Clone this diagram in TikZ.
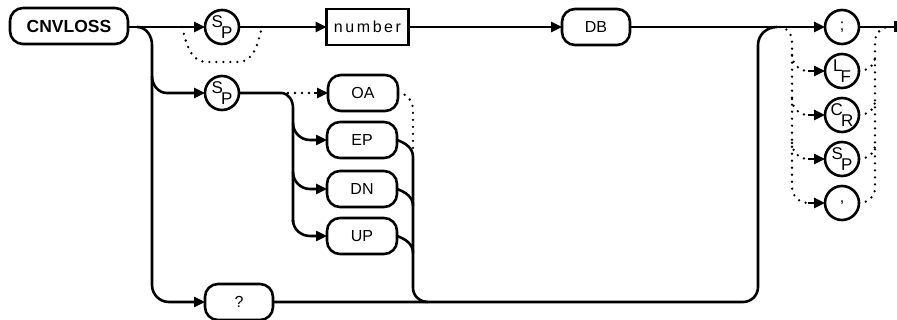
\documentclass[tikz,border=0pt]{standalone}
\usepackage{fontspec}
\setmainfont{Liberation Sans}
\usetikzlibrary{arrows.meta}
\newcommand\cirlab[2]{\raisebox{6pt}{#1}\kern-2pt\raisebox{-5pt}{#2}}
\begin{document}
\begin{tikzpicture}[x=1pt,y=-1pt,
  line width=2.6pt,
  every node/.style={inner sep=0pt, outer sep=0pt},
  term/.style={draw, rounded corners=13pt, minimum width=70pt, minimum height=36pt, font=\fontsize{16}{16}\selectfont},
  boxnode/.style={draw, minimum width=82pt, minimum height=36pt, font=\fontsize{16}{16}\selectfont\addfontfeature{LetterSpace=16}},
  circ/.style={draw, circle, minimum size=34pt, font=\fontsize{16}{16}\selectfont},
  sub/.style={font=\fontsize{17}{17}\selectfont},
  arr/.style={-{Triangle[length=11pt,width=10pt]}},
  dot/.style={line width=2.6pt, dash pattern=on 0pt off 7pt, line cap=round},
]
\useasboundingbox (0,0) rectangle (897,320);

% nodes
\node[term, minimum width=118pt, font=\bfseries\fontsize{17.5}{17.5}\selectfont] (cnv) at (69,26) {CNVLOSS};
\node[circ, sub] (sp1) at (222,27) {\cirlab{S}{P}};
\node[boxnode] (num) at (367.5,27) {number};
\node[term, minimum width=68pt] (db) at (596,27) {DB};
\node[circ, sub] (sp2) at (222,93) {\cirlab{S}{P}};
\node[term] (oa) at (363,93) {OA};
\node[term] (ep) at (362,140) {EP};
\node[term] (dn) at (362,189) {DN};
\node[term] (up) at (362,236) {UP};
\node[term, minimum width=68pt] (q) at (239,302) {?};
\node[circ] (semi) at (842,27) {;};
\node[circ, sub] (lf) at (842,71) {\cirlab{L}{F}};
\node[circ, sub] (cr) at (842,115) {\cirlab{C}{R}};
\node[circ, sub] (sp3) at (842,159) {\cirlab{S}{P}};
\node[circ] (comma) at (842,203) {,};
\coordinate (end) at (895.5,27);

% main line
\draw[arr] (cnv.east |- sp1) -- (sp1.west);
\draw[arr] (sp1.east) -- (num.west);
\draw[arr] (num.east) -- (db.west);
\draw[arr] (db.east) -- (semi.west);
\draw (semi.east) -- (end);
\draw ([yshift=-5.5pt]end) -- ([yshift=5.5pt]end);

% optional space bypass
\coordinate (b1) at (182,27);
\coordinate (b2) at (262,27);
\draw[dot] (b1) to[out=-75,in=180] (207,62) -- (238,62) to[out=0,in=-105] (b2);

% left vertical branch
\coordinate (j0) at (137,27);
\draw[arr] (j0) to[out=0,in=90] (152,45) -- (152,285) to[out=-90,in=180] (169,302) -- (q.west);
\draw[arr] (152,76) to[out=-90,in=180] (167,93) -- (sp2.west);

% SP2 to OA/EP/DN/UP
\draw (sp2.east) -- (281,93) to[out=0,in=90] (293,108) -- (293,222);
\draw[dot] (288,93) -- (314,93);
\draw[arr] (314,93) -- (oa.west);
\draw[arr] (293,123) to[out=-90,in=180] (310,140) -- (ep.west);
\draw[arr] (293,172) to[out=-90,in=180] (310,189) -- (dn.west);
\draw[arr] (293,220) to[out=-90,in=180] (310,236) -- (up.west);

% merge right of OA..UP
\draw[dot] (oa.east) to[out=0,in=90] (413,110) -- (413,152);
\draw (ep.east) to[out=-20,in=90] (413,157) -- (413,288) to[out=-90,in=180] (428,302);
\draw (dn.east) to[out=-20,in=90] (413,206);
\draw (up.east) to[out=-20,in=90] (413,253);

% bottom return line
\draw (q.east) -- (743,302) to[out=0,in=-90] (758,287) -- (758,45) to[out=90,in=180] (777,27);

% terminators: left dotted
\coordinate (t1) at (780,27);
\draw[dot] (t1) to[out=0,in=90] (792,42) -- (792,187) to[out=-90,in=180] (808,203);
\draw[dot] (792,55) to[out=-90,in=180] (808,71);
\draw[dot] (792,99) to[out=-90,in=180] (808,115);
\draw[dot] (792,143) to[out=-90,in=180] (808,159);
\draw[arr] (808,71) -- (lf.west);
\draw[arr] (808,115) -- (cr.west);
\draw[arr] (808,159) -- (sp3.west);
\draw[arr] (808,203) -- (comma.west);

% terminators: right dotted
\coordinate (t2) at (889,27);
\draw[dot] (comma.east) to[out=0,in=-90] (875,188) -- (875,42) to[out=90,in=180] (t2);
\draw[dot] (lf.east) to[out=0,in=-90] (875,57);
\draw[dot] (cr.east) to[out=0,in=-90] (875,101);
\draw[dot] (sp3.east) to[out=0,in=-90] (875,145);
\end{tikzpicture}
\end{document}
